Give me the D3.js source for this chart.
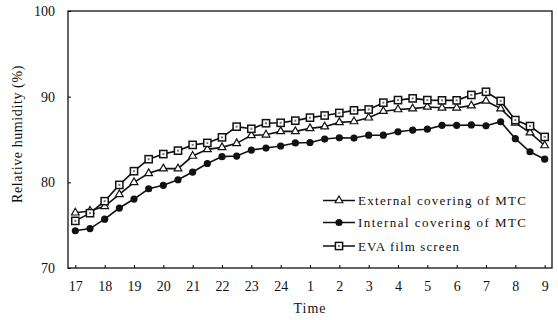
<!DOCTYPE html>
<html>
<head>
<meta charset="utf-8">
<script src="https://cdn.jsdelivr.net/npm/d3@7"></script>
<style>
  body { margin: 0; background: #fff; }
  text { font-family: "Liberation Serif", "DejaVu Serif", serif; fill: #111; }
</style>
</head>
<body>
<script>
// half-hourly readings from 17:00 to 9:00
const hourLabels = ['17','18','19','20','21','22','23','24','1','2','3','4','5','6','7','8','9'];

const external = [76.45, 76.65, 77.2, 78.6, 80.0, 81.05, 81.6, 81.6, 83.07, 83.85, 84.08,
  84.55, 85.48, 85.55, 85.95, 85.95, 86.3, 86.5, 87.0, 87.1, 87.54, 88.3, 88.5,
  88.6, 88.8, 88.7, 88.7, 88.95, 89.5, 88.6, 86.95, 85.8, 84.3];

const internal = [74.35, 74.6, 75.7, 77.0, 78.05, 79.25, 79.65, 80.3, 81.2, 82.2, 83.0,
  83.07, 83.77, 84.0, 84.24, 84.6, 84.65, 85.05, 85.2, 85.17, 85.5, 85.5, 85.9,
  86.1, 86.2, 86.65, 86.65, 86.7, 86.6, 87.07, 85.1, 83.57, 82.7];

const eva = [75.5, 76.4, 77.8, 79.7, 81.3, 82.7, 83.3, 83.7, 84.37, 84.6, 85.25,
  86.5, 86.25, 86.9, 86.95, 87.2, 87.55, 87.8, 88.1, 88.4, 88.5, 89.3, 89.6,
  89.8, 89.6, 89.57, 89.57, 90.2, 90.57, 89.5, 87.27, 86.57, 85.3];

const seriesNames = ['External covering of MTC', 'Internal covering of MTC', 'EVA film screen'];
const yTicks = [70, 80, 90, 100];

let width = 558, height = 320;
let margin = { top: 11, right: 6, bottom: 52, left: 68 };

let svg = d3.select('body').append('svg')
  .attr('width', width)
  .attr('height', height);

let x = d3.scaleLinear().domain([-0.5, 32.5]).range([margin.left, width - margin.right]);
let y = d3.scaleLinear().domain([70, 100]).range([height - margin.bottom, margin.top]);

// frame
svg.append('rect')
  .attr('x', x(-0.5)).attr('y', y(100))
  .attr('width', x(32.5) - x(-0.5)).attr('height', y(70) - y(100))
  .attr('fill', 'none').attr('stroke', '#111').attr('stroke-width', 1.3);

// y axis
let yAxis = d3.axisLeft(y).tickValues(yTicks).tickSize(-3).tickPadding(13);
let gy = svg.append('g').attr('transform', `translate(${x(-0.5)},0)`).call(yAxis);
gy.select('.domain').remove();
gy.selectAll('text').attr('font-size', 14).attr('font-family', 'Liberation Serif');

// x axis, one tick per hour
let xAxis = d3.axisBottom(x)
  .tickValues(d3.range(0, 33, 2))
  .tickFormat((d, i) => hourLabels[i])
  .tickSize(-3).tickPadding(13);
let gx = svg.append('g').attr('transform', `translate(0,${y(70)})`).call(xAxis);
gx.select('.domain').remove();
gx.selectAll('text').attr('font-size', 14).attr('font-family', 'Liberation Serif');

svg.append('text')
  .attr('x', 310).attr('y', 313)
  .attr('text-anchor', 'middle').attr('font-size', 14)
  .attr('letter-spacing', 1)
  .text('Time');

svg.append('text')
  .attr('transform', 'translate(22,134) rotate(-90)')
  .attr('text-anchor', 'middle').attr('font-size', 14)
  .attr('letter-spacing', 0.6)
  .text('Relative humidity (%)');

// markers
function drawMarker(g, kind, cx, cy) {
  if (kind === 0) {
    g.append('path')
      .attr('d', d3.symbol().type(d3.symbolTriangle).size(26)())
      .attr('transform', `translate(${cx},${cy})`)
      .attr('fill', '#fff').attr('stroke', '#111').attr('stroke-width', 1.2);
  } else if (kind === 1) {
    g.append('circle').attr('cx', cx).attr('cy', cy).attr('r', 3.6).attr('fill', '#111');
  } else {
    g.append('rect').attr('x', cx - 3.6).attr('y', cy - 3.6)
      .attr('width', 7.2).attr('height', 7.2)
      .attr('fill', '#fff').attr('stroke', '#111').attr('stroke-width', 1.5);
    g.append('rect').attr('x', cx - 1).attr('y', cy - 1)
      .attr('width', 2).attr('height', 2).attr('fill', '#777');
  }
}

let line = d3.line().x((d, i) => x(i)).y(d => y(d));

[external, internal, eva].forEach(function(data, k) {
  let g = svg.append('g');
  g.append('path').datum(data)
    .attr('d', line)
    .attr('fill', 'none').attr('stroke', '#111').attr('stroke-width', 1.6);
  data.forEach((d, i) => drawMarker(g, k, x(i), y(d)));
});

// legend
let legendY = [200.5, 222.5, 246];
seriesNames.forEach(function(name, k) {
  let g = svg.append('g');
  g.append('line')
    .attr('x1', 323).attr('x2', 355)
    .attr('y1', legendY[k]).attr('y2', legendY[k])
    .attr('stroke', '#111').attr('stroke-width', 1.5);
  drawMarker(g, k, 339, legendY[k]);
  g.append('text')
    .attr('x', 358).attr('y', legendY[k] + 4.5)
    .attr('font-size', 13)
    .attr('textLength', k === 2 ? 101 : 168)
    .attr('lengthAdjust', 'spacing')
    .text(name);
});
</script>
</body>
</html>
